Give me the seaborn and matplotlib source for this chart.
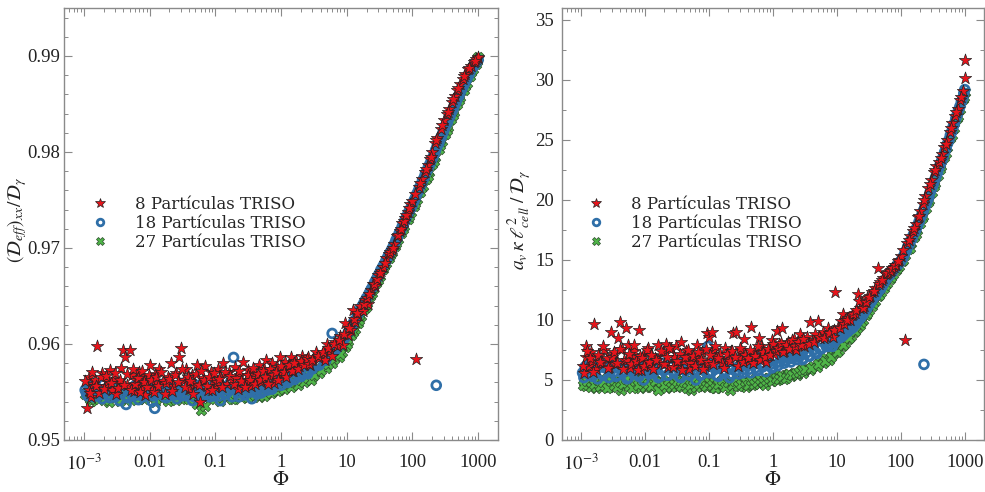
import numpy as np
import pandas as pd
import matplotlib
matplotlib.use("Agg")
import matplotlib.pyplot as plt
from matplotlib.ticker import FixedLocator, FixedFormatter, LogLocator, NullFormatter, MultipleLocator
from matplotlib.lines import Line2D
import seaborn as sns

# ---------------- data ----------------
labels = ["8 Partículas TRISO", "18 Partículas TRISO", "27 Partículas TRISO"]

# --- 8 particles (stars) ---
phi8 = [0.0011, 0.0012, 0.0012, 0.0013, 0.0014, 0.0015, 0.0016, 0.0017, 0.0019, 0.0021,
        0.0023, 0.0025, 0.0027, 0.0029, 0.0031, 0.0034, 0.0037, 0.0040, 0.0043, 0.0046,
        0.0050, 0.0054, 0.0058, 0.0063, 0.0068, 0.0074, 0.0080, 0.0086, 0.0093, 0.010,
        0.011, 0.012, 0.013, 0.014, 0.016, 0.017, 0.019, 0.021, 0.023, 0.025,
        0.028, 0.030, 0.033, 0.036, 0.040, 0.044, 0.048, 0.053, 0.058, 0.064,
        0.070, 0.077, 0.085, 0.093, 0.10, 0.11, 0.12, 0.13, 0.15, 0.16,
        0.18, 0.20, 0.22, 0.24, 0.26, 0.29, 0.32, 0.35, 0.38, 0.42,
        0.46, 0.50, 0.55, 0.60, 0.66, 0.72, 0.79, 0.87, 0.95, 1.05,
        1.15, 1.26, 1.4, 1.5, 1.7, 1.9, 2.1, 2.3, 2.6, 2.8,
        3.1, 3.4, 3.8, 4.2, 4.6, 5.0, 5.5, 6.0, 6.6, 7.2,
        8.0, 8.7, 9.5, 10.5, 11.5, 12.5, 13.5, 15, 16, 17.5,
        19, 21, 23, 25, 27, 30, 33, 36, 40, 44,
        48, 53, 58, 64, 70, 77, 85, 93, 100, 115,
        125, 140, 155, 170, 185, 200, 220, 240, 270, 300,
        330, 360, 400, 440, 480, 530, 580, 640, 700, 770,
        850, 930, 1000, 1000]
deff8 = [0.9533, 0.9552, 0.9566, 0.9545, 0.9558, 0.9563, 0.9598, 0.9549, 0.9570, 0.9556,
         0.9561, 0.9573, 0.9552, 0.9564, 0.9548, 0.9559, 0.9575, 0.9594, 0.9586, 0.9557,
         0.9594, 0.9568, 0.9551, 0.9562, 0.9571, 0.9555, 0.9566, 0.9547, 0.9563, 0.9578,
         0.9552, 0.9569, 0.9559, 0.9574, 0.9561, 0.9548, 0.9566, 0.9580, 0.9556, 0.9570,
         0.9586, 0.9596, 0.9562, 0.9574, 0.9553, 0.9568, 0.9558, 0.9578, 0.9540, 0.9565,
         0.9577, 0.9552, 0.9571, 0.9561, 0.9555, 0.9574, 0.9566, 0.9580, 0.9558, 0.9571,
         0.9563, 0.9576, 0.9553, 0.9568, 0.9581, 0.9562, 0.9573, 0.9556, 0.9570, 0.9565,
         0.9578, 0.9560, 0.9574, 0.9583, 0.9567, 0.9580, 0.9559, 0.9576, 0.9586, 0.9569,
         0.9581, 0.9575, 0.9586, 0.9572, 0.9582, 0.9577, 0.9588, 0.9580, 0.9586, 0.9578,
         0.9584, 0.9592, 0.9585, 0.9590, 0.9583, 0.9600, 0.9593, 0.9588, 0.9602, 0.9598,
         0.9608, 0.9599, 0.9622, 0.9609, 0.9615, 0.9635, 0.9623, 0.9630, 0.9640, 0.9634,
         0.9646, 0.9642, 0.9656, 0.9662, 0.9660, 0.9672, 0.9676, 0.9680, 0.9690, 0.9694,
         0.9698, 0.9704, 0.9712, 0.9718, 0.9726, 0.9731, 0.9738, 0.9746, 0.9749, 0.9584,
         0.9764, 0.9772, 0.9779, 0.9786, 0.9793, 0.9800, 0.9809, 0.9815, 0.9824, 0.9833,
         0.9840, 0.9845, 0.9852, 0.9858, 0.9865, 0.9871, 0.9876, 0.9881, 0.9886, 0.9890,
         0.9894, 0.9897, 0.9898, 0.9899]
kap8 = [5.6, 6.9, 7.8, 6.2, 7.3, 6.6, 9.7, 5.9, 7.0, 6.4,
        7.5, 6.8, 6.1, 9.0, 7.2, 6.3, 8.5, 9.8, 7.6, 6.7,
        9.3, 7.9, 6.0, 6.9, 7.4, 6.5, 9.2, 5.8, 7.1, 6.6,
        7.7, 6.2, 7.0, 6.8, 7.9, 6.4, 7.3, 8.0, 6.1, 7.6,
        6.9, 7.8, 6.3, 8.2, 6.6, 7.4, 5.9, 7.1, 6.5, 7.9,
        6.8, 7.3, 6.2, 8.9, 8.6, 9.0, 7.5, 6.9, 7.2, 6.4,
        7.7, 6.7, 7.4, 8.9, 9.0, 6.9, 7.5, 8.4, 7.0, 6.6,
        9.4, 7.3, 6.9, 8.5, 7.8, 7.1, 6.5, 7.6, 8.3, 7.2,
        9.1, 8.0, 9.3, 7.4, 8.2, 7.7, 8.4, 7.5, 8.8, 8.1,
        7.8, 8.6, 9.8, 8.3, 8.8, 9.9, 8.5, 9.0, 8.7, 9.3,
        9.0, 8.6, 12.3, 9.4, 9.9, 10.5, 10.0, 10.2, 10.0, 10.4,
        10.6, 12.2, 11.0, 11.4, 11.2, 11.8, 12.0, 12.3, 12.7, 14.3,
        13.2, 13.5, 13.8, 14.0, 14.2, 14.4, 14.6, 15.0, 15.3, 8.3,
        16.4, 17.0, 17.4, 18.0, 18.6, 19.1, 19.7, 20.3, 21.0, 21.7,
        22.3, 22.8, 23.2, 23.8, 24.4, 25.0, 25.7, 26.4, 27.0, 27.6,
        28.3, 29.1, 31.7, 30.2]
phi8_extra = [0.00105, 0.00125, 0.00135, 0.00155, 0.0018, 0.002, 0.0022, 0.0026, 0.003, 0.0033,
              0.0036, 0.0041, 0.0045, 0.0052, 0.0056, 0.0061, 0.0066, 0.0071, 0.0077, 0.0083,
              0.009, 0.0097, 0.0105, 0.0115, 0.0125, 0.0135, 0.015, 0.018, 0.02, 0.022,
              0.024, 0.027, 0.031, 0.035, 0.038, 0.042, 0.046, 0.051, 0.056, 0.061,
              0.067, 0.074, 0.081, 0.089, 0.097, 0.105, 0.115, 0.125, 0.14, 0.17,
              0.19, 0.21, 0.23, 0.25, 0.28, 0.31, 0.34, 0.37, 0.40, 0.44,
              0.48, 0.53, 0.58, 0.63, 0.69, 0.76, 0.83, 0.91, 1.0, 1.1,
              1.2, 1.33, 1.45, 1.6, 1.8, 2.0, 2.2, 2.45, 2.7, 3.0,
              3.6, 4.4, 5.2, 6.3, 7.6, 9.0, 11, 13, 14.5, 18,
              20, 22, 26, 29, 32, 38, 46, 51, 61, 67,
              74, 81, 89, 110, 132, 160, 190, 230, 285, 345,
              420, 500, 610, 730, 880]
deff8_extra = [0.9561, 0.9549, 0.9571, 0.9556, 0.9566, 0.9553, 0.9567, 0.9559, 0.9570, 0.9554,
               0.9563, 0.9557, 0.9569, 0.9552, 0.9574, 0.9558, 0.9565, 0.9550, 0.9572, 0.9560,
               0.9555, 0.9568, 0.9562, 0.9550, 0.9566, 0.9556, 0.9571, 0.9559, 0.9564, 0.9551,
               0.9568, 0.9560, 0.9574, 0.9555, 0.9566, 0.9561, 0.9548, 0.9569, 0.9557, 0.9572,
               0.9563, 0.9556, 0.9566, 0.9552, 0.9570, 0.9560, 0.9564, 0.9555, 0.9571, 0.9567,
               0.9558, 0.9565, 0.9572, 0.9561, 0.9555, 0.9568, 0.9563, 0.9575, 0.9558, 0.9569,
               0.9562, 0.9572, 0.9566, 0.9558, 0.9574, 0.9568, 0.9571, 0.9563, 0.9577, 0.9571,
               0.9566, 0.9578, 0.9572, 0.9580, 0.9574, 0.9582, 0.9578, 0.9584, 0.9579, 0.9583,
               0.9588, 0.9592, 0.9596, 0.9600, 0.9604, 0.9610, 0.9617, 0.9626, 0.9632, 0.9642,
               0.9648, 0.9652, 0.9662, 0.9668, 0.9674, 0.9684, 0.9696, 0.9700, 0.9714, 0.9720,
               0.9728, 0.9734, 0.9742, 0.9756, 0.9768, 0.9782, 0.9795, 0.9812, 0.9828, 0.9842,
               0.9855, 0.9867, 0.9879, 0.9888, 0.9895]
kap8_extra = [6.2, 7.4, 6.8, 5.7, 7.1, 6.5, 7.8, 6.0, 6.9, 7.3,
              6.4, 7.6, 5.9, 6.7, 7.2, 6.3, 7.9, 6.6, 5.8, 7.0,
              6.8, 6.2, 7.5, 6.5, 7.1, 5.9, 6.7, 7.4, 6.3, 6.9,
              7.7, 6.1, 6.6, 7.2, 5.8, 6.9, 7.5, 6.4, 7.0, 6.2,
              7.3, 6.7, 5.9, 7.6, 6.5, 7.1, 6.3, 7.8, 6.8, 6.0,
              7.2, 6.6, 7.4, 6.9, 6.2, 7.7, 6.5, 7.1, 6.8, 7.5,
              6.4, 7.0, 7.8, 6.7, 7.3, 6.9, 7.6, 7.1, 8.0, 7.4,
              7.7, 8.1, 7.3, 7.9, 7.6, 8.3, 7.8, 8.2, 7.9, 8.4,
              8.0, 8.2, 8.6, 8.5, 8.9, 9.2, 9.3, 9.7, 10.0, 10.5,
              10.8, 11.6, 11.0, 11.5, 11.9, 12.4, 13.0, 13.3, 13.9, 14.1,
              14.3, 14.6, 14.9, 15.8, 16.7, 17.7, 18.7, 20.0, 21.3, 22.5,
              23.5, 24.7, 26.0, 27.3, 28.6]

# --- 18 particles (circles) ---
phi18 = [0.0011, 0.0012, 0.0013, 0.0014, 0.0016, 0.0018, 0.0020, 0.0022, 0.0025, 0.0028,
         0.0031, 0.0035, 0.0039, 0.0044, 0.0049, 0.0055, 0.0061, 0.0068, 0.0076, 0.0085,
         0.0095, 0.011, 0.012, 0.013, 0.015, 0.017, 0.019, 0.021, 0.023, 0.026,
         0.029, 0.032, 0.036, 0.040, 0.045, 0.050, 0.056, 0.062, 0.069, 0.077,
         0.086, 0.096, 0.11, 0.12, 0.13, 0.15, 0.17, 0.19, 0.21, 0.23,
         0.26, 0.29, 0.32, 0.36, 0.40, 0.45, 0.50, 0.56, 0.62, 0.69,
         0.77, 0.86, 0.96, 1.07, 1.2, 1.35, 1.5, 1.7, 1.9, 2.1,
         2.4, 2.7, 3.0, 3.4, 3.8, 4.3, 4.8, 5.4, 6.0, 6.8,
         7.6, 8.5, 9.5, 10.5, 11.8, 13, 14.5, 16, 18, 20,
         22, 25, 28, 31, 35, 39, 43, 48, 53, 59,
         66, 73, 81, 90, 100, 110, 122, 135, 150, 165,
         183, 203, 230, 225, 250, 275, 305, 340, 375, 415,
         460, 510, 565, 625, 690, 760, 840, 930, 1000]
deff18 = [0.9548, 0.9556, 0.9551, 0.9545, 0.9553, 0.9547, 0.9558, 0.9550, 0.9544, 0.9555,
          0.9549, 0.9541, 0.9553, 0.9537, 0.9551, 0.9546, 0.9557, 0.9542, 0.9552, 0.9548,
          0.9556, 0.9540, 0.9533, 0.9550, 0.9558, 0.9545, 0.9553, 0.9547, 0.9556, 0.9543,
          0.9551, 0.9559, 0.9546, 0.9554, 0.9541, 0.9550, 0.9557, 0.9544, 0.9552, 0.9548,
          0.9555, 0.9546, 0.9553, 0.9541, 0.9556, 0.9549, 0.9560, 0.9586, 0.9552, 0.9545,
          0.9557, 0.9550, 0.9559, 0.9543, 0.9554, 0.9561, 0.9549, 0.9558, 0.9552, 0.9563,
          0.9556, 0.9566, 0.9560, 0.9568, 0.9562, 0.9570, 0.9565, 0.9572, 0.9568, 0.9575,
          0.9571, 0.9578, 0.9574, 0.9581, 0.9578, 0.9586, 0.9583, 0.9591, 0.9611, 0.9594,
          0.9599, 0.9603, 0.9607, 0.9612, 0.9618, 0.9624, 0.9630, 0.9636, 0.9642, 0.9648,
          0.9653, 0.9660, 0.9667, 0.9673, 0.9680, 0.9686, 0.9692, 0.9698, 0.9704, 0.9711,
          0.9718, 0.9725, 0.9732, 0.9739, 0.9745, 0.9752, 0.9759, 0.9766, 0.9773, 0.9780,
          0.9787, 0.9794, 0.9557, 0.9802, 0.9809, 0.9816, 0.9824, 0.9831, 0.9838, 0.9845,
          0.9852, 0.9859, 0.9866, 0.9872, 0.9878, 0.9884, 0.9889, 0.9893, 0.9896]
kap18 = [5.2, 6.0, 5.5, 6.3, 5.8, 5.1, 6.5, 5.4, 6.1, 5.7,
         6.8, 5.3, 6.0, 5.6, 6.4, 5.2, 5.9, 6.6, 5.5, 6.2,
         5.0, 5.8, 6.4, 5.6, 6.1, 5.3, 6.7, 5.9, 5.4, 6.3,
         5.7, 6.0, 5.2, 6.5, 5.8, 5.4, 6.2, 5.0, 6.6, 5.5,
         6.0, 7.8, 5.7, 6.3, 5.4, 6.1, 5.8, 6.5, 5.2, 6.0,
         6.7, 5.5, 6.2, 5.9, 6.6, 5.6, 6.3, 5.8, 6.9, 6.1,
         5.7, 6.5, 6.0, 6.8, 6.2, 7.0, 6.4, 6.9, 6.5, 7.1,
         6.7, 7.2, 6.8, 7.3, 7.0, 7.5, 7.2, 7.6, 8.2, 7.8,
         8.0, 7.8, 8.3, 8.5, 8.6, 8.8, 9.0, 9.2, 9.4, 9.7,
         10.0, 10.4, 10.8, 11.2, 11.6, 12.0, 12.3, 12.6, 13.0, 13.4,
         13.7, 14.0, 14.3, 14.6, 14.9, 15.3, 15.8, 16.3, 16.8, 17.3,
         17.9, 18.5, 6.3, 19.1, 19.7, 20.3, 21.0, 21.7, 22.3, 23.0,
         23.6, 24.3, 25.0, 25.7, 26.4, 27.1, 27.8, 28.5, 29.2]
phi18_extra = [0.00105, 0.00115, 0.0015, 0.0017, 0.0019, 0.0021, 0.0024, 0.0027, 0.003, 0.0033,
               0.0037, 0.0042, 0.0047, 0.0052, 0.0058, 0.0065, 0.0072, 0.008, 0.009, 0.01,
               0.0115, 0.0125, 0.014, 0.016, 0.018, 0.02, 0.022, 0.025, 0.028, 0.031,
               0.034, 0.038, 0.043, 0.048, 0.053, 0.059, 0.066, 0.073, 0.082, 0.091,
               0.1, 0.115, 0.125, 0.14, 0.16, 0.18, 0.2, 0.22, 0.25, 0.28,
               0.31, 0.34, 0.38, 0.43, 0.48, 0.53, 0.59, 0.66, 0.73, 0.82,
               0.91, 1.0, 1.13, 1.27, 1.42, 1.6, 1.8, 2.0, 2.25, 2.55,
               2.9, 3.6, 4.6, 5.7, 7.2, 9.0, 11, 12.4, 15, 17,
               19, 23.5, 26.5, 29.5, 33, 37, 41, 45.5, 50.5, 56,
               62.5, 69.5, 77, 85.5, 95, 105, 116, 128, 142, 157,
               174, 193, 214, 237, 262, 290, 322, 357, 395, 437,
               485, 537, 595, 657, 725, 800, 885, 965]
deff18_extra = [0.9552, 0.9546, 0.9554, 0.9549, 0.9543, 0.9553, 0.9547, 0.9551, 0.9545, 0.9556,
                0.9548, 0.9552, 0.9544, 0.9550, 0.9554, 0.9547, 0.9551, 0.9545, 0.9553, 0.9549,
                0.9546, 0.9555, 0.9548, 0.9552, 0.9544, 0.9550, 0.9554, 0.9547, 0.9552, 0.9546,
                0.9555, 0.9549, 0.9553, 0.9545, 0.9551, 0.9547, 0.9554, 0.9549, 0.9545, 0.9552,
                0.9550, 0.9546, 0.9554, 0.9548, 0.9552, 0.9545, 0.9555, 0.9549, 0.9553, 0.9547,
                0.9556, 0.9550, 0.9554, 0.9548, 0.9557, 0.9551, 0.9555, 0.9560, 0.9553, 0.9558,
                0.9562, 0.9557, 0.9564, 0.9560, 0.9566, 0.9563, 0.9569, 0.9566, 0.9572, 0.9569,
                0.9576, 0.9579, 0.9584, 0.9590, 0.9597, 0.9605, 0.9614, 0.9621, 0.9632, 0.9639,
                0.9645, 0.9657, 0.9664, 0.9670, 0.9677, 0.9683, 0.9689, 0.9695, 0.9701, 0.9708,
                0.9715, 0.9722, 0.9729, 0.9736, 0.9742, 0.9749, 0.9756, 0.9763, 0.9770, 0.9777,
                0.9784, 0.9791, 0.9798, 0.9806, 0.9813, 0.9820, 0.9828, 0.9835, 0.9842, 0.9849,
                0.9856, 0.9863, 0.9869, 0.9875, 0.9881, 0.9887, 0.9891, 0.9895]
kap18_extra = [5.6, 6.1, 5.3, 5.9, 6.4, 5.5, 6.0, 5.2, 6.3, 5.7,
               5.4, 6.2, 5.8, 5.1, 6.0, 5.6, 6.5, 5.3, 5.9, 6.2,
               5.5, 6.0, 5.7, 5.2, 6.4, 5.8, 5.4, 6.1, 5.6, 6.6,
               5.3, 5.9, 6.2, 5.5, 6.0, 5.7, 6.3, 5.4, 5.8, 6.1,
               5.6, 6.4, 5.9, 5.3, 6.2, 5.7, 6.0, 5.5, 6.5, 5.8,
               6.1, 5.6, 6.3, 5.9, 6.6, 6.0, 5.8, 6.4, 6.2, 6.7,
               6.3, 6.1, 6.8, 6.5, 6.9, 6.6, 7.0, 6.8, 7.1, 6.9,
               6.7, 7.0, 7.3, 7.6, 7.8, 8.1, 8.5, 8.7, 9.1, 9.3,
               9.6, 10.2, 10.6, 11.0, 11.4, 11.8, 12.1, 12.5, 12.8, 13.2,
               13.6, 13.9, 14.2, 14.5, 14.8, 15.1, 15.6, 16.1, 16.6, 17.1,
               17.6, 18.2, 18.8, 19.4, 20.0, 20.7, 21.3, 22.0, 22.7, 23.3,
               24.0, 24.7, 25.4, 26.1, 26.8, 27.5, 28.2, 28.9]

# --- 27 particles (crosses) ---
phi27 = [0.0011, 0.0012, 0.0013, 0.0015, 0.0017, 0.0019, 0.0021, 0.0024, 0.0027, 0.0030,
         0.0034, 0.0038, 0.0042, 0.0047, 0.0053, 0.0059, 0.0066, 0.0074, 0.0083, 0.0093,
         0.010, 0.012, 0.013, 0.015, 0.017, 0.019, 0.021, 0.024, 0.027, 0.030,
         0.034, 0.038, 0.042, 0.047, 0.053, 0.060, 0.066, 0.074, 0.083, 0.093,
         0.10, 0.12, 0.13, 0.15, 0.17, 0.19, 0.21, 0.24, 0.27, 0.30,
         0.34, 0.38, 0.42, 0.47, 0.53, 0.60, 0.66, 0.74, 0.83, 0.93,
         1.04, 1.16, 1.3, 1.5, 1.7, 1.9, 2.1, 2.4, 2.7, 3.0,
         3.4, 3.8, 4.3, 4.8, 5.4, 6.0, 6.8, 7.6, 8.5, 9.5,
         10.6, 11.8, 13.2, 14.7, 16.4, 18.3, 20.4, 22.8, 25.4, 28.3,
         31.6, 35.2, 39.3, 43.8, 48.8, 54.5, 60.7, 67.7, 75.5, 84.2,
         93.9, 105, 117, 130, 145, 162, 180, 201, 224, 250,
         279, 311, 347, 387, 431, 481, 536, 598, 667, 743,
         829, 924, 1000]
deff27 = [0.9555, 0.9545, 0.9541, 0.9550, 0.9543, 0.9552, 0.9546, 0.9540, 0.9549, 0.9558,
          0.9544, 0.9551, 0.9547, 0.9553, 0.9542, 0.9548, 0.9545, 0.9551, 0.9543, 0.9549,
          0.9546, 0.9540, 0.9550, 0.9544, 0.9548, 0.9541, 0.9552, 0.9546, 0.9549, 0.9543,
          0.9550, 0.9545, 0.9548, 0.9542, 0.9538, 0.9531, 0.9547, 0.9551, 0.9544, 0.9549,
          0.9546, 0.9541, 0.9550, 0.9545, 0.9548, 0.9543, 0.9551, 0.9546, 0.9549, 0.9544,
          0.9552, 0.9547, 0.9550, 0.9545, 0.9553, 0.9548, 0.9555, 0.9550, 0.9557, 0.9552,
          0.9559, 0.9555, 0.9561, 0.9557, 0.9563, 0.9560, 0.9566, 0.9563, 0.9569, 0.9566,
          0.9572, 0.9570, 0.9577, 0.9575, 0.9582, 0.9580, 0.9587, 0.9586, 0.9592, 0.9597,
          0.9603, 0.9609, 0.9616, 0.9622, 0.9629, 0.9636, 0.9643, 0.9650, 0.9657, 0.9664,
          0.9671, 0.9678, 0.9684, 0.9690, 0.9696, 0.9702, 0.9709, 0.9716, 0.9723, 0.9730,
          0.9737, 0.9744, 0.9751, 0.9758, 0.9765, 0.9772, 0.9779, 0.9787, 0.9795, 0.9803,
          0.9811, 0.9819, 0.9826, 0.9834, 0.9842, 0.9850, 0.9857, 0.9865, 0.9872, 0.9879,
          0.9886, 0.9892, 0.9899]
kap27 = [4.8, 4.5, 5.0, 4.7, 4.3, 4.9, 4.6, 5.1, 4.4, 4.8,
         4.6, 5.0, 4.2, 4.7, 4.9, 4.5, 5.2, 4.6, 4.3, 4.8,
         4.5, 4.9, 4.4, 4.7, 5.0, 4.6, 4.3, 4.8, 4.5, 5.1,
         4.7, 4.4, 4.9, 4.6, 4.2, 4.8, 4.5, 5.0, 4.7, 4.4,
         4.9, 4.6, 4.3, 4.8, 5.1, 4.6, 4.2, 4.7, 5.0, 4.5,
         4.8, 4.4, 4.9, 4.6, 5.1, 4.7, 5.0, 4.6, 5.2, 4.9,
         5.3, 5.0, 5.4, 5.1, 5.5, 5.3, 5.6, 5.4, 5.8, 5.6,
         6.0, 5.8, 6.2, 6.1, 6.5, 6.4, 6.8, 6.7, 7.1, 7.3,
         7.5, 7.8, 8.1, 8.4, 8.7, 9.0, 9.3, 9.6, 10.0, 10.4,
         10.8, 11.2, 11.6, 12.0, 12.3, 12.7, 13.1, 13.4, 13.8, 14.2,
         14.5, 14.9, 15.4, 15.9, 16.4, 16.9, 17.5, 18.1, 18.7, 19.3,
         20.0, 20.7, 21.4, 22.1, 22.8, 23.6, 24.4, 25.2, 26.0, 26.8,
         27.6, 28.4, 29.0]
phi27_extra = [0.00105, 0.00125, 0.0014, 0.0016, 0.0018, 0.002, 0.0022, 0.0025, 0.0029, 0.0032,
               0.0036, 0.004, 0.0045, 0.005, 0.0056, 0.0062, 0.007, 0.0078, 0.0088, 0.0098,
               0.011, 0.0125, 0.014, 0.016, 0.018, 0.02, 0.0225, 0.025, 0.0285, 0.032,
               0.036, 0.04, 0.045, 0.05, 0.056, 0.063, 0.07, 0.078, 0.088, 0.098,
               0.11, 0.125, 0.14, 0.16, 0.18, 0.2, 0.225, 0.25, 0.285, 0.32,
               0.36, 0.4, 0.45, 0.5, 0.56, 0.63, 0.7, 0.78, 0.88, 0.98,
               1.1, 1.23, 1.4, 1.6, 1.8, 2.0, 2.25, 2.55, 2.85, 3.2,
               4.0, 5.1, 6.4, 8.0, 10, 12.5, 15.5, 19.3, 24, 30,
               37, 46, 57, 71, 88, 110, 137, 170, 212, 264,
               330, 410, 510, 635, 790, 960]
deff27_extra = [0.9548, 0.9543, 0.9551, 0.9546, 0.9549, 0.9542, 0.9550, 0.9545, 0.9552, 0.9547,
                0.9541, 0.9549, 0.9544, 0.9550, 0.9546, 0.9552, 0.9543, 0.9548, 0.9545, 0.9551,
                0.9547, 0.9543, 0.9549, 0.9546, 0.9552, 0.9544, 0.9548, 0.9542, 0.9550, 0.9546,
                0.9549, 0.9543, 0.9551, 0.9547, 0.9544, 0.9549, 0.9535, 0.9546, 0.9550, 0.9543,
                0.9548, 0.9545, 0.9551, 0.9547, 0.9543, 0.9549, 0.9546, 0.9552, 0.9548, 0.9545,
                0.9550, 0.9547, 0.9553, 0.9549, 0.9546, 0.9552, 0.9549, 0.9554, 0.9551, 0.9556,
                0.9553, 0.9558, 0.9555, 0.9560, 0.9557, 0.9562, 0.9560, 0.9565, 0.9563, 0.9568,
                0.9573, 0.9579, 0.9584, 0.9590, 0.9600, 0.9612, 0.9625, 0.9639, 0.9653, 0.9667,
                0.9681, 0.9693, 0.9705, 0.9720, 0.9733, 0.9747, 0.9762, 0.9775, 0.9791, 0.9807,
                0.9823, 0.9839, 0.9854, 0.9869, 0.9883, 0.9895]
kap27_extra = [4.6, 4.9, 4.4, 4.7, 5.0, 4.5, 4.8, 4.3, 4.9, 4.6,
               4.4, 4.8, 4.7, 5.1, 4.5, 4.3, 4.9, 4.6, 5.0, 4.4,
               4.7, 4.5, 4.9, 4.2, 4.8, 4.6, 5.0, 4.4, 4.7, 4.9,
               4.5, 4.8, 4.3, 4.6, 5.0, 4.4, 4.7, 4.9, 4.5, 4.8,
               4.6, 4.3, 4.7, 5.0, 4.4, 4.8, 4.6, 4.9, 4.5, 4.7,
               4.9, 4.6, 5.0, 4.7, 4.8, 5.1, 4.8, 5.0, 5.2, 4.9,
               5.2, 5.1, 5.3, 5.2, 5.5, 5.4, 5.6, 5.7, 5.8, 5.9,
               6.0, 6.3, 6.6, 6.9, 7.3, 7.9, 8.5, 9.1, 9.8, 10.6,
               11.4, 12.1, 12.9, 13.6, 14.3, 15.0, 16.0, 17.2, 18.5, 19.8,
               21.2, 22.6, 23.9, 25.4, 27.0, 28.6]

xtick_vals = [1e-3, 0.01, 0.1, 1, 10, 100, 1000]
xtick_labels = [r"$10^{-3}$", "0.01", "0.1", "1", "10", "100", "1000"]
ytick_left = [0.95, 0.96, 0.97, 0.98, 0.99]
ytick_right = [0, 5, 10, 15, 20, 25, 30, 35]

# ---------------- styling ----------------
sns.set_theme(style="ticks")
plt.rcParams["font.family"] = ["Liberation Serif", "DejaVu Serif"]
plt.rcParams["mathtext.fontset"] = "stix"

frames = []
for lab, p, d, k in [(labels[2], phi27 + phi27_extra, deff27 + deff27_extra, kap27 + kap27_extra),
                     (labels[1], phi18 + phi18_extra, deff18 + deff18_extra, kap18 + kap18_extra),
                     (labels[0], phi8 + phi8_extra, deff8 + deff8_extra, kap8 + kap8_extra)]:
    frames.append(pd.DataFrame({"phi": p, "deff": d, "kap": k, "serie": lab}))

styles = {
    labels[0]: dict(marker="*", s=88, facecolor="#e8141b", edgecolor="#222222", linewidth=0.5),
    labels[1]: dict(marker="o", s=40, facecolor="none", edgecolor="#2f6fa8", linewidth=2.0),
    labels[2]: dict(marker="X", s=58, facecolor="#4fb548", edgecolor="#2a4a2a", linewidth=0.5),
}

fig = plt.figure(figsize=(9.85, 4.92), dpi=100)
ax1 = fig.add_axes([64 / 985, 52 / 492, 434 / 985, 432 / 492])
ax2 = fig.add_axes([562 / 985, 52 / 492, 422 / 985, 432 / 492])

spine_col = "#8a8a8a"
for ax, col, yl, yt, ylab, leg_x, ylab_x, ypad in [
        (ax1, "deff", (0.95, 0.995), ytick_left, r"$(\mathcal{D}_{eff})_{xx}/\mathcal{D}_{\gamma}$", 0.049, -0.080, 3),
        (ax2, "kap", (0, 36), ytick_right, r"$a_v\,\kappa\;\ell^{2}_{cell}\;/\;\mathcal{D}_{\gamma}$", 0.045, -0.066, 6)]:
    for fr in frames:
        lab = fr["serie"].iloc[0]
        sns.scatterplot(data=fr, x="phi", y=col, ax=ax, legend=False, zorder=3,
                        **styles[lab])
    ax.set_xscale("log")
    ax.set_xlim(5e-4, 2000)
    ax.set_ylim(*yl)
    ax.xaxis.set_major_locator(FixedLocator(xtick_vals))
    ax.xaxis.set_major_formatter(FixedFormatter(xtick_labels))
    ax.xaxis.set_minor_locator(LogLocator(base=10, subs=np.arange(2, 10)))
    ax.xaxis.set_minor_formatter(NullFormatter())
    ax.yaxis.set_major_locator(FixedLocator(yt))
    if col == "deff":
        ax.yaxis.set_minor_locator(MultipleLocator(0.002))
        ax.yaxis.set_major_formatter(FixedFormatter([f"{v:.2f}" for v in yt]))
    else:
        ax.yaxis.set_minor_locator(MultipleLocator(2.5))
        ax.yaxis.set_major_formatter(FixedFormatter([str(v) for v in yt]))
    ax.tick_params(which="both", direction="in", top=True, right=True,
                   color=spine_col, labelsize=13.5, labelcolor="#222222")
    ax.tick_params(which="major", length=6, width=0.8)
    ax.tick_params(axis="y", which="major", pad=ypad)
    ax.tick_params(axis="x", which="major", pad=10)
    ax.tick_params(which="minor", length=3, width=0.7)
    for sp in ax.spines.values():
        sp.set_color(spine_col)
        sp.set_linewidth(1.0)
    ax.set_xlabel(r"$\Phi$", fontsize=15, color="#222222")
    ax.xaxis.set_label_coords(0.5, -0.072)
    ax.set_ylabel(ylab, fontsize=14, color="#222222")
    ax.yaxis.set_label_coords(ylab_x, 0.51)

    handles = []
    for lab in labels:
        st = styles[lab]
        handles.append(Line2D([], [], linestyle="none", marker=st["marker"],
                              markersize=np.sqrt(st["s"]) * 0.75,
                              markerfacecolor=st["facecolor"],
                              markeredgecolor=st["edgecolor"],
                              markeredgewidth=st["linewidth"]))
    ax.legend(handles, labels, loc="upper left", bbox_to_anchor=(leg_x, 0.58),
              frameon=False, handlelength=1.0, handletextpad=1.6, labelspacing=0.12,
              borderaxespad=0.0, prop={"family": "DejaVu Serif", "size": 12})

fig.savefig("out.png", dpi=100)
